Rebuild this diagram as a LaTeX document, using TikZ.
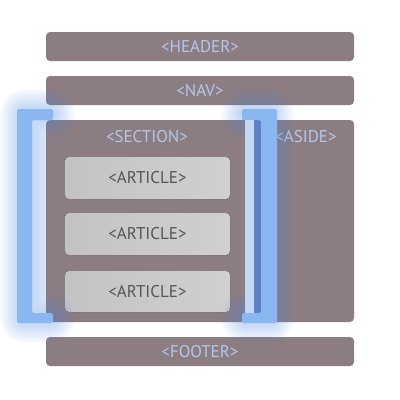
\documentclass[tikz,border=0pt]{standalone}
\usepackage{fontspec}
\setmainfont{PT Sans}
\begin{document}
\begin{tikzpicture}[x=1pt,y=-1pt,
  box/.style={fill=boxc,rounded corners=4pt,draw=none},
  art/.style={left color=artl,right color=artr,rounded corners=4pt,draw=none},
  lbl/.style={text=lblc,font=\fontsize{17}{19}\selectfont,inner sep=0pt},
  albl/.style={text=artt,font=\fontsize{17}{19}\selectfont,inner sep=0pt},
  glow/.style={draw=glowc,line join=round,line cap=round,opacity=0.035},
  brk/.style={fill=brkc,draw=none,rounded corners=1.5pt}]
\definecolor{boxc}{HTML}{8B7D82}
\definecolor{artl}{HTML}{C3C3C4}
\definecolor{artr}{HTML}{D0D0D0}
\definecolor{lblc}{HTML}{B6C7EC}
\definecolor{artt}{HTML}{555558}
\definecolor{glowc}{HTML}{4F8DE8}
\definecolor{brkc}{HTML}{8AB6F2}
\definecolor{brkd}{HTML}{5E80C4}
\definecolor{brkl}{HTML}{C4D8F4}
\useasboundingbox (0,0) rectangle (400,400);
\fill[white] (0,0) rectangle (400,400);
% boxes
\fill[box] (46,32) rectangle (354,61);
\node[lbl] (header) at (200,46.5) {<HEADER>};
\fill[box] (46,76) rectangle (354,105);
\node[lbl] (nav) at (200,90.5) {<NAV>};
\fill[box] (46,120) rectangle (354,322);
\node[lbl] (section) at (147,137) {<SECTION>};
\node[lbl] (aside) at (306,137) {<ASIDE>};
\fill[box] (46,337) rectangle (354,366);
\node[lbl] (footer) at (200,351.5) {<FOOTER>};
% articles
\fill[art] (65,157) rectangle (230,199);
\node[albl] (a1) at (147.5,178) {<ARTICLE>};
\fill[art] (65,213) rectangle (230,255);
\node[albl] (a2) at (147.5,234) {<ARTICLE>};
\fill[art] (65,271) rectangle (230,312);
\node[albl] (a3) at (147.5,291.5) {<ARTICLE>};
% glow
\foreach \w in {6,10,14,18,22,26,30,34,38,42,46,50} {
  \draw[glow,line width=\w pt] (50,114) -- (25,114) -- (25,318) -- (50,318);
  \draw[glow,line width=\w pt] (246,114) -- (269,114) -- (269,318) -- (246,318);
}
% left bracket
\fill[brkl,opacity=0.5] (32,120) rectangle (46,313);
\fill[brk] (17,109) -- (53,109) -- (53,120) -- (32,120) -- (32,313) -- (53,313) -- (53,323) -- (17,323) -- cycle;
% right bracket
\fill[brkl] (245,120) rectangle (254,313);
\fill[brkd] (254,120) rectangle (262,313);
\fill[brk] (242,109) -- (277,109) -- (277,323) -- (242,323) -- (242,313) -- (261,313) -- (261,120) -- (242,120) -- cycle;
\end{tikzpicture}
\end{document}
